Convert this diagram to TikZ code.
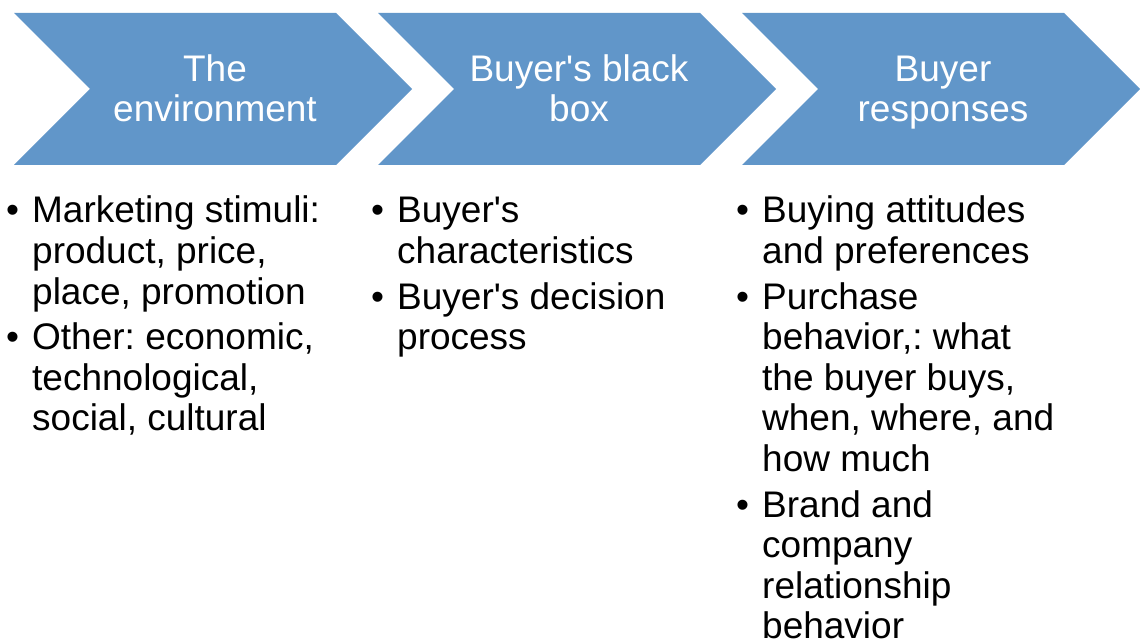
\documentclass[tikz,border=0pt]{standalone}
\usepackage{fontspec}
\setmainfont{Liberation Sans}
\frenchspacing
\definecolor{chevronblue}{RGB}{97,150,201}
\newcommand{\bitem}[1]{\par\hangindent=26pt\hangafter=1\noindent\makebox[26pt][l]{\textbullet}#1}
\newcommand{\bulletlist}[1]{\parbox[t]{360pt}{\fontsize{37}{40.6}\selectfont
  \setlength{\parskip}{5pt}\raggedright#1}}
\begin{document}
\begin{tikzpicture}
[x=1pt,y=-1pt,
 chevrondecorate/.style={fill=chevronblue,draw=none},%
 headdecorate/.style={text=white,align=center,inner sep=0pt,font=\fontsize{37}{40}\selectfont},%
 listdecorate/.style={anchor=base west,inner sep=0pt}]
\useasboundingbox (0,0) rectangle (1140,644);
%% chevrons with their titles
\foreach \nodename/\x/\headtext in {Environment/14/{The\\environment},
 Blackbox/378/{Buyer\textquotesingle s black\\box}, Responses/742/{Buyer\\responses}}
{
  \fill[chevrondecorate] (\x,13) -- ++(322,0) -- ++(76,76) -- ++(-76,76)
    -- ++(-322,0) -- ++(76,-76) -- cycle;
  \node (\nodename) at (\x+201,94) [headdecorate] {\strut\headtext\strut};
}
%% bullet lists under the chevrons
\foreach \nodename/\x/\listtext in {
 EnvironmentList/6/{\bitem{Marketing stimuli:\newline product, price,\newline place, promotion}%
   \bitem{Other: economic,\newline technological,\newline social, cultural}},
 BlackboxList/371/{\bitem{Buyer\textquotesingle s\newline characteristics}%
   \bitem{Buyer\textquotesingle s decision\newline process}},
 ResponsesList/736/{\bitem{Buying attitudes\newline and preferences}%
   \bitem{Purchase\newline behavior,: what\newline the buyer buys,\newline when, where, and\newline how much}%
   \bitem{Brand and\newline company\newline relationship\newline behavior}}}
{
  \node (\nodename) at (\x,223) [listdecorate] {\bulletlist{\listtext}};
}
\end{tikzpicture}
\end{document}
